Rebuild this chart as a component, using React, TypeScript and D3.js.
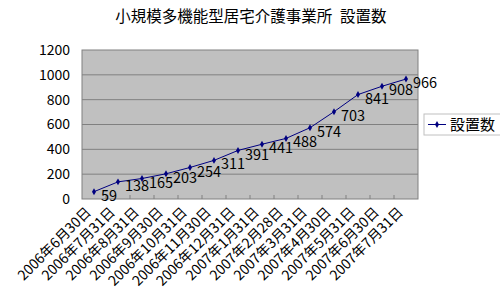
import React from "react";
import * as d3 from "d3";

const title = "小規模多機能型居宅介護事業所\u2002設置数";
const seriesName = "設置数";
const categories = [
  "2006年6月30日", "2006年7月31日", "2006年8月31日", "2006年9月30日",
  "2006年10月31日", "2006年11月30日", "2006年12月31日", "2007年1月31日",
  "2007年2月28日", "2007年3月31日", "2007年4月30日", "2007年5月31日",
  "2007年6月30日", "2007年7月31日",
];
const values = [59, 138, 165, 203, 254, 311, 391, 441, 488, 574, 703, 841, 908, 966];
const yTicks = [0, 200, 400, 600, 800, 1000, 1200];

const W = 500, H = 307;
const plot = { left: 82, right: 418, top: 50, bottom: 199 };
const FONT = "'Noto Sans CJK JP', 'DejaVu Sans', sans-serif";

export default function App() {
  const x = d3.scaleBand<string>().domain(categories).range([plot.left, plot.right]).padding(0);
  const y = d3.scaleLinear().domain([0, 1200]).range([plot.bottom, plot.top]);
  const cx = (c: string) => (x(c) ?? 0) + x.bandwidth() / 2;
  const line = d3.line<number>().x((_, i) => cx(categories[i])).y((v) => y(v));
  const diamond = d3.symbol().type(d3.symbolDiamond).size(14)();

  return (
    <svg width={W} height={H} style={{ position: "absolute", left: 0, top: 0, background: "#fff" }} fontFamily={FONT}>
      <text x={251} y={22} textAnchor="middle" fontSize={15.5} fill="#000">{title}</text>
      <rect x={plot.left} y={plot.top} width={plot.right - plot.left} height={plot.bottom - plot.top} fill="#c0c0c0" stroke="#808080" strokeWidth={1} />
      {yTicks.map((t) => (
        <g key={t}>
          {t > 0 && t < 1200 && (
            <line x1={plot.left} x2={plot.right} y1={y(t)} y2={y(t)} stroke="#808080" strokeWidth={1} />
          )}
          <text x={70} y={y(t)} dy="0.35em" textAnchor="end" fontSize={14} fill="#000">{t}</text>
        </g>
      ))}
      {categories.slice(1).map((c) => (
        <line key={c} x1={x(c)} x2={x(c)} y1={plot.bottom} y2={plot.bottom - 4} stroke="#808080" strokeWidth={1} />
      ))}
      <path d={line(values) ?? ""} fill="none" stroke="#000080" strokeWidth={1} />
      {values.map((v, i) => (
        <g key={i}>
          <path d={diamond ?? ""} transform={`translate(${cx(categories[i])},${y(v)})`} fill="#000080" />
          <text x={cx(categories[i]) + 7} y={y(v) + 4} dy="0.35em" fontSize={14.5} fill="#000">{v}</text>
        </g>
      ))}
      {categories.map((c) => (
        <text key={c} transform={`translate(${cx(c) - 2},${213}) rotate(-45)`} textAnchor="end" fontSize={14} fill="#000">{c}</text>
      ))}
      <rect x={424} y={114} width={80} height={21} fill="#fff" stroke="#c0c0c0" strokeWidth={1} />
      <line x1={428} x2={446} y1={124.5} y2={124.5} stroke="#000080" strokeWidth={1} />
      <path d={diamond ?? ""} transform="translate(437,124.5)" fill="#000080" />
      <text x={450} y={124.5} dy="0.35em" fontSize={15} fill="#000">{seriesName}</text>
    </svg>
  );
}
